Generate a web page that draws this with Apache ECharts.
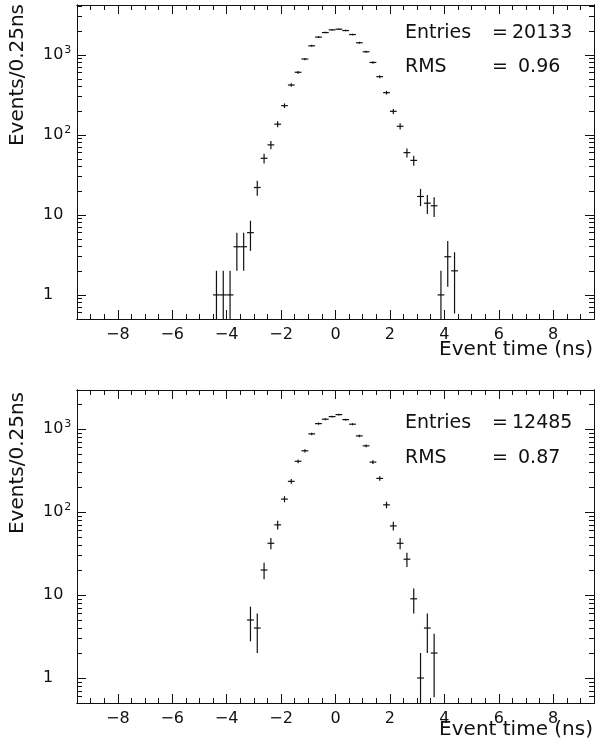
<!DOCTYPE html>
<html>
<head>
<meta charset="utf-8">
<script src="https://cdn.jsdelivr.net/npm/echarts@6/dist/echarts.min.js"></script>
<style>
html, body { margin: 0; padding: 0; background: #fff; }
#chart { width: 595px; height: 749px; }
</style>
</head>
<body>
<div id="chart"></div>
<script>
// bin centres (ns) and counts per 0.25 ns bin
var binsTop = [-4.375, -4.125, -3.875, -3.625, -3.375, -3.125, -2.875, -2.625, -2.375, -2.125,
  -1.875, -1.625, -1.375, -1.125, -0.875, -0.625, -0.375, -0.125, 0.125, 0.375,
  0.625, 0.875, 1.125, 1.375, 1.625, 1.875, 2.125, 2.375, 2.625, 2.875,
  3.125, 3.375, 3.625, 3.875, 4.125, 4.375]
var countsTop = [1, 1, 1, 4, 4, 6, 22, 51, 75, 136,
  232, 420, 606, 887, 1298, 1667, 1901, 2055, 2094, 2014,
  1795, 1416, 1093, 804, 534, 337, 197, 128, 60, 48,
  17, 14, 13, 1, 3, 2]

var binsBottom = [-3.125, -2.875, -2.625, -2.375, -2.125, -1.875, -1.625, -1.375, -1.125, -0.875,
  -0.625, -0.375, -0.125, 0.125, 0.375, 0.625, 0.875, 1.125, 1.375, 1.625,
  1.875, 2.125, 2.375, 2.625, 2.875, 3.125, 3.375, 3.625]
var countsBottom = [5, 4, 20, 42, 70, 143, 234, 408, 546, 873,
  1161, 1312, 1410, 1490, 1297, 1142, 826, 627, 399, 254,
  122, 68, 42, 27, 9, 1, 4, 2]

var statsTop = ['20133', '0.96']
var statsBottom = ['12485', '0.87']

var xMajor = [-8, -6, -4, -2, 0, 2, 4, 6, 8]
var yDecades = [1, 10, 100, 1000]
var yMinorTop = [0.6, 0.7, 0.8, 0.9, 2, 3, 4, 5, 6, 7, 8, 9, 20, 30, 40, 50, 60, 70, 80, 90,
  200, 300, 400, 500, 600, 700, 800, 900, 2000, 3000, 4000]
var yMinorBottom = [0.6, 0.7, 0.8, 0.9, 2, 3, 4, 5, 6, 7, 8, 9, 20, 30, 40, 50, 60, 70, 80, 90,
  200, 300, 400, 500, 600, 700, 800, 900, 2000]

var BIN = 0.25
var X_MIN = -9.5
var X_MAX = 9.5
var Y_MIN = 0.5
var INK = '#111'
var FONT = 'DejaVu Sans'

var chart = echarts.init(document.getElementById('chart'))

function minusLabel(v) {
  return v < 0 ? '\u2212' + (-v) : String(v)
}

function decadeLabel(v) {
  var p = Math.round(Math.log(v) / Math.LN10)
  if (p === 0) return '1'
  if (p === 1) return '10'
  return '10{sup|' + p + '}'
}

function axisLine() {
  return { onZero: false, lineStyle: { color: INK, width: 1 } }
}

function xAxes(grid) {
  var base = { gridIndex: grid, type: 'value', min: X_MIN, max: X_MAX, axisLine: axisLine(), splitLine: { show: false } }
  return [
    Object.assign({}, base, {
      position: 'bottom',
      axisTick: { inside: true, length: 9, customValues: xMajor, lineStyle: { color: INK } },
      axisLabel: { customValues: xMajor, formatter: minusLabel, margin: 8, color: INK, fontSize: 16, fontFamily: FONT }
    }),
    Object.assign({}, base, {
      position: 'bottom', interval: 0.5,
      axisTick: { inside: true, length: 5, lineStyle: { color: INK } },
      axisLabel: { show: false }
    }),
    Object.assign({}, base, {
      position: 'top',
      axisTick: { inside: true, length: 9, customValues: xMajor, lineStyle: { color: INK } },
      axisLabel: { show: false }
    }),
    Object.assign({}, base, {
      position: 'top', interval: 0.5,
      axisTick: { inside: true, length: 5, lineStyle: { color: INK } },
      axisLabel: { show: false }
    })
  ]
}

function yAxes(grid, yMax, minor) {
  var base = { gridIndex: grid, type: 'log', logBase: 10, min: Y_MIN, max: yMax, axisLine: axisLine(), splitLine: { show: false } }
  return [
    Object.assign({}, base, {
      position: 'left',
      axisTick: { inside: true, length: 9, customValues: yDecades, lineStyle: { color: INK } },
      axisLabel: {
        customValues: yDecades, formatter: decadeLabel, align: 'left', margin: 34,
        color: INK, fontSize: 16, fontFamily: FONT,
        rich: { sup: { fontSize: 11, fontFamily: FONT, color: INK, padding: [0, 0, 9, 1] } }
      }
    }),
    Object.assign({}, base, {
      position: 'left',
      axisTick: { inside: true, length: 5, customValues: minor, lineStyle: { color: INK } },
      axisLabel: { show: false }
    }),
    Object.assign({}, base, {
      position: 'right',
      axisTick: { inside: true, length: 9, customValues: yDecades, lineStyle: { color: INK } },
      axisLabel: { show: false }
    }),
    Object.assign({}, base, {
      position: 'right',
      axisTick: { inside: true, length: 5, customValues: minor, lineStyle: { color: INK } },
      axisLabel: { show: false }
    })
  ]
}

// crosses: horizontal bar = bin width, vertical bar = sqrt(N)
function errorBars(params, api) {
  var t = api.value(0)
  var n = api.value(1)
  var e = Math.sqrt(n)
  var lo = n - e > Y_MIN ? n - e : Y_MIN
  var a = api.coord([t - BIN / 2, n])
  var b = api.coord([t + BIN / 2, n])
  var top = api.coord([t, n + e])
  var bot = api.coord([t, lo])
  var style = { stroke: INK, lineWidth: 1.2 }
  return {
    type: 'group',
    children: [
      { type: 'line', shape: { x1: a[0], y1: a[1], x2: b[0], y2: b[1] }, style: style },
      { type: 'line', shape: { x1: top[0], y1: top[1], x2: bot[0], y2: bot[1] }, style: style }
    ]
  }
}

function pairs(xs, ys) {
  return xs.map(function(x, i) { return [x, ys[i]] })
}

function statText(x, y, text) {
  return { type: 'text', x: x, y: y, style: { text: text, fill: INK, font: '19px "' + FONT + '"', textVerticalAlign: 'middle' } }
}

function yTitle(y) {
  return {
    type: 'text', x: 18, y: y, rotation: Math.PI / 2,
    style: { text: 'Events/0.25ns', fill: INK, font: '20px "' + FONT + '"', textAlign: 'center', textVerticalAlign: 'middle' }
  }
}

function xTitle(y) {
  return {
    type: 'text', x: 593, y: y,
    style: { text: 'Event time (ns)', fill: INK, font: '20px "' + FONT + '"', textAlign: 'right', textVerticalAlign: 'middle' }
  }
}

chart.setOption({
  backgroundColor: '#fff',
  animation: false,
  grid: [
    { left: 77, top: 5, width: 517, height: 314 },
    { left: 77, top: 390, width: 517, height: 313 }
  ],
  xAxis: xAxes(0).concat(xAxes(1)),
  yAxis: yAxes(0, 4200, yMinorTop).concat(yAxes(1, 2950, yMinorBottom)),
  series: [
    { type: 'custom', xAxisIndex: 0, yAxisIndex: 0, renderItem: errorBars, data: pairs(binsTop, countsTop) },
    { type: 'custom', xAxisIndex: 4, yAxisIndex: 4, renderItem: errorBars, data: pairs(binsBottom, countsBottom) }
  ],
  graphic: [
    yTitle(75), yTitle(463), xTitle(350), xTitle(730),
    statText(405, 33, 'Entries'), statText(492, 33, '='), statText(512, 33, statsTop[0]),
    statText(405, 67, 'RMS'), statText(492, 67, '='), statText(518, 67, statsTop[1]),
    statText(405, 423, 'Entries'), statText(492, 423, '='), statText(512, 423, statsBottom[0]),
    statText(405, 458, 'RMS'), statText(492, 458, '='), statText(518, 458, statsBottom[1])
  ]
})
</script>
</body>
</html>
